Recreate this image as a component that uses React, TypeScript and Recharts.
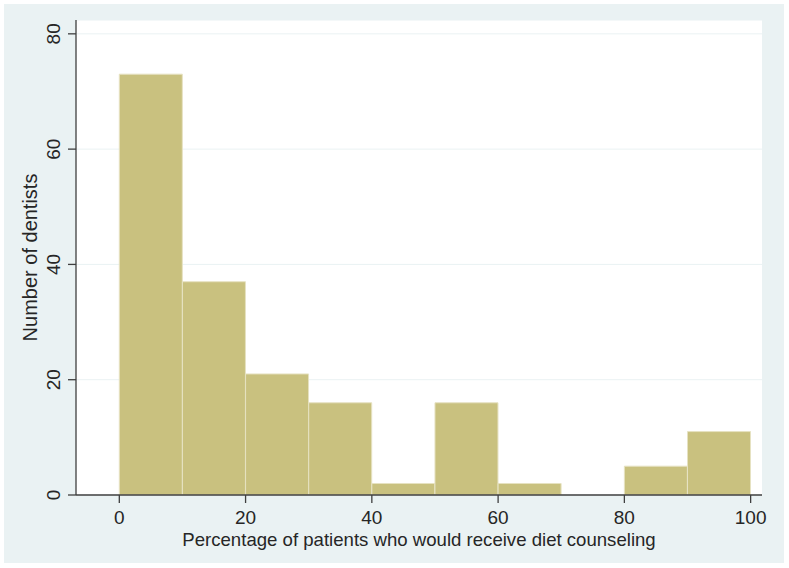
import React from "react";
import { ComposedChart, Bar, XAxis, YAxis, CartesianGrid } from "recharts";

// histogram bins (midpoints) and counts
const binMids = [5, 15, 25, 35, 45, 55, 65, 75, 85, 95];
const counts = [73, 37, 21, 16, 2, 16, 2, 0, 5, 11];
const xTicks = [0, 20, 40, 60, 80, 100];
const yTicks = [0, 20, 40, 60, 80];

const data = binMids.map((mid, i) => ({ mid, count: counts[i] }));

const FONT = "'Liberation Sans', Arial, sans-serif";
const TEXT = "#262626";
const AXIS = "#3f3f3f";

const YTick = ({ x, y, payload }: any) => (
  <text
    x={x}
    y={y}
    transform={`rotate(-90, ${x}, ${y})`}
    textAnchor="middle"
    fill={TEXT}
    fontSize={19}
    fontFamily={FONT}
  >
    {payload.value}
  </text>
);

export default function App() {
  return (
    <div style={{ position: "absolute", left: 0, top: 0, width: 789, height: 568, background: "#fff" }}>
      <div style={{ position: "absolute", left: 4, top: 4, width: 780, height: 559, background: "#eaf2f3" }} />
      <div style={{ position: "absolute", left: 0, top: 0 }}>
        <ComposedChart
          width={789}
          height={568}
          data={data}
          margin={{ top: 20, right: 27, bottom: 0, left: 0 }}
        >
          <CartesianGrid vertical={false} fill="#ffffff" stroke="#eaf2f3" strokeWidth={1} />
          <XAxis
            dataKey="mid"
            type="number"
            domain={[-6.86, 101.8]}
            ticks={xTicks}
            allowDataOverflow
            height={73}
            stroke={AXIS}
            strokeWidth={1.3}
            tickSize={8}
            tickMargin={8}
            tick={{ fill: TEXT, fontSize: 19, fontFamily: FONT }}
            label={{
              value: "Percentage of patients who would receive diet counseling",
              position: "insideTop",
              offset: 38,
              fill: TEXT,
              fontSize: 18.6,
              fontFamily: FONT,
            }}
          />
          <YAxis
            type="number"
            domain={[0, 82.4]}
            ticks={yTicks}
            allowDataOverflow
            width={76}
            stroke={AXIS}
            strokeWidth={1.3}
            tickSize={8}
            tickMargin={8}
            tick={<YTick />}
            label={{
              value: "Number of dentists",
              angle: -90,
              position: "insideLeft",
              offset: 30,
              style: { textAnchor: "middle" },
              fill: TEXT,
              fontSize: 20,
              fontFamily: FONT,
            }}
          />
          <Bar
            dataKey="count"
            barSize={63}
            fill="#c9c17f"
            stroke="#e6e2c2"
            strokeWidth={1}
            isAnimationActive={false}
          />
        </ComposedChart>
      </div>
    </div>
  );
}
